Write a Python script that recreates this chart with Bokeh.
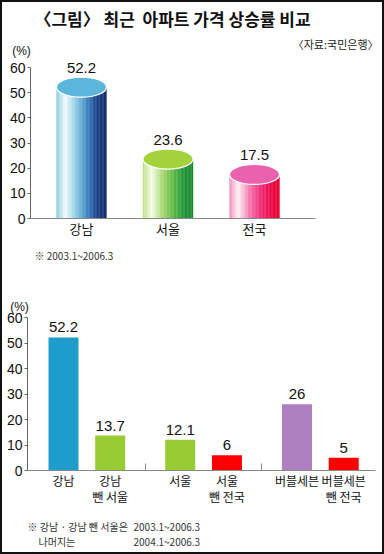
from bokeh.plotting import figure
from bokeh.models import Range1d, FixedTicker, Label, LabelSet, ColumnDataSource, LinearAxis
from bokeh.layouts import column
from bokeh.embed import file_html
from bokeh.resources import INLINE
from bokeh.core.properties import value

# ---------------- data ----------------
title_text = "〈그림〉 최근\u00a0 아파트 가격 상승률 비교"
source_text = "〈자료:국민은행〉"
unit_text = "(%)"

top_categories = ["강남", "서울", "전국"]
top_values = [52.2, 23.6, 17.5]
top_note = "※ 2003.1~2006.3"

bottom_categories = ["강남", "강남\n뺀 서울", "서울", "서울\n뺀 전국", "버블세븐", "버블세븐\n뺀 전국"]
bottom_groups = [0, 0, 1, 1, 2, 2]
bottom_values = [52.2, 13.7, 12.1, 6, 26, 5]
bottom_note_1a = "※ 강남 · 강남 뺀 서울은"
bottom_note_1b = "2003.1~2006.3"
bottom_note_2a = "나머지는"
bottom_note_2b = "2004.1~2006.3"

y_ticks = [0, 10, 20, 30, 40, 50, 60]

# ---------------- style ----------------
KR = "Noto Sans CJK KR"
NUM = "Liberation Sans"
NARROW = "Liberation Sans Narrow, Arial Narrow, Liberation Sans"

top_stops = [
    [(0, "#86cde0"), (0.18, "#f4fbfd"), (0.40, "#8ccbe4"), (0.62, "#3a86c0"), (0.82, "#1c3f88"), (1, "#142a6a")],
    [(0, "#bde27e"), (0.18, "#f6fbea"), (0.40, "#a8d870"), (0.62, "#5cb844"), (0.82, "#22963a"), (1, "#1a8a30")],
    [(0, "#f08cb8"), (0.18, "#fff2f7"), (0.40, "#f57ab0"), (0.62, "#f0307a"), (0.82, "#ec0c4a"), (1, "#e8002a")],
]
top_cap_colors = ["#5cb6dc", "#a4d23c", "#ea62ae"]
bottom_colors = ["#1e9dcc", "#99cc33", "#99cc33", "#ff0000", "#ad7fbf", "#ff0000"]


def hex2rgb(h):
    return tuple(int(h[i:i + 2], 16) for i in (1, 3, 5))


def interp(stops, t):
    for (p0, c0), (p1, c1) in zip(stops, stops[1:]):
        if t <= p1:
            f = (t - p0) / (p1 - p0)
            a, b = hex2rgb(c0), hex2rgb(c1)
            return "#%02x%02x%02x" % tuple(round(a[k] + (b[k] - a[k]) * f) for k in range(3))
    return stops[-1][1]


def make_fig(h, xr, yr):
    p = figure(width=380, height=h, x_range=Range1d(*xr), y_range=Range1d(*yr),
               output_backend="svg", toolbar_location=None, title=None,
               x_axis_location=None, y_axis_location=None,
               min_border=0, min_border_left=0, min_border_right=0,
               min_border_top=0, min_border_bottom=0)
    p.xgrid.visible = False
    p.ygrid.visible = False
    p.outline_line_color = None
    p.background_fill_color = "white"
    p.border_fill_color = "white"
    return p


def add_yaxis(p, xloc):
    ax = LinearAxis(fixed_location=xloc, bounds=(0, 60),
                    ticker=FixedTicker(ticks=y_ticks, minor_ticks=[]))
    ax.major_tick_out = 3
    ax.major_tick_in = 0
    ax.minor_tick_out = 0
    ax.minor_tick_in = 0
    ax.major_label_standoff = 2
    ax.major_label_text_font = NARROW
    ax.major_label_text_font_size = "14px"
    ax.major_label_text_color = "#111111"
    ax.axis_line_color = "#666666"
    ax.major_tick_line_color = "#666666"
    p.add_layout(ax, "left")


def add_baseline(p, x0, x1, seps):
    ax = LinearAxis(fixed_location=0, bounds=(x0, x1),
                    ticker=FixedTicker(ticks=[], minor_ticks=seps))
    ax.major_tick_out = 0
    ax.major_tick_in = 0
    ax.minor_tick_out = 0
    ax.minor_tick_in = 7
    ax.minor_tick_line_color = "#888888"
    ax.axis_line_color = "#888888"
    p.add_layout(ax, "below")


def add_cat_labels(p, xs, cats, standoff, line_h, size):
    lx, lt, lo = [], [], []
    for x, c in zip(xs, cats):
        for k, line in enumerate(c.split("\n")):
            lx.append(x)
            lt.append(line)
            lo.append(standoff + k * line_h)
    src = ColumnDataSource(dict(x=lx, y=[0] * len(lx), t=lt, o=lo))
    p.text(x="x", y="y", text="t", y_offset="o", source=src, text_align="center",
           text_baseline="top", text_font=value(KR), text_font_size=size, text_color="#111111")


def add_text(p, x, y, text, size, font=KR, align="left", bold=False, color="#222222"):
    p.add_layout(Label(x=x, y=y, text=text, text_font=font, text_font_size=size,
                       text_font_style="bold" if bold else "normal",
                       text_align=align, text_baseline="middle", text_color=color))


# ---------------- top chart ----------------
# canvas = image pixel - 2 (border); bar centres at 79 + 86.5*i, zero at 216, 2.5167 px/unit
T_SX, T_X0 = 86.5, 79
T_SY, T_Y0 = 151 / 60, 216
T_H = 260
tx = lambda img_x: (img_x - 2 - T_X0) / T_SX
ty = lambda img_y: (T_Y0 - (img_y - 2)) / T_SY

p1 = make_fig(T_H, (tx(2), tx(382)), (ty(2 + T_H), ty(2)))
add_yaxis(p1, tx(30))
add_baseline(p1, tx(30), tx(315), [])

top_x = list(range(len(top_categories)))
bar_w = 50 / T_SX
N = 36
sx, st, sc = [], [], []
for i, v in enumerate(top_values):
    for k in range(N):
        t = (k + 0.5) / N
        sx.append(top_x[i] - bar_w / 2 + t * bar_w)
        st.append(v)
        sc.append(interp(top_stops[i], t))
p1.vbar(x=sx, top=st, bottom=0, width=bar_w / N * 1.05, fill_color=sc, line_color=sc, line_width=0.3)
p1.ellipse(x=top_x, y=top_values, width=bar_w, height=20, height_units="screen",
           fill_color=top_cap_colors, line_color="white", line_width=1.2)

src1 = ColumnDataSource(dict(x=top_x, y=top_values, t=["%g" % v for v in top_values]))
p1.add_layout(LabelSet(x="x", y="y", text="t", source=src1, y_offset=14, text_align="center",
                       text_baseline="alphabetic", text_font=value(NUM), text_font_size="15px",
                       text_color="#111111"))
add_cat_labels(p1, top_x, top_categories, 0, 16, "13px")

add_text(p1, tx(172), ty(18), title_text, "17px", bold=True, align="center", color="#111111")
add_text(p1, tx(378), ty(43), source_text, "11px", align="right")
add_text(p1, tx(21), ty(50), unit_text, "12px", font=NUM, align="center", color="#111111")
add_text(p1, tx(34), ty(255), top_note, "10px", color="#333333")

# ---------------- bottom chart ----------------
# canvas = image pixel - 262; bar slots at 61 + 46.7*x, zero at 208, 2.55 px/unit
B_SX, B_X0 = 46.7, 61
B_SY, B_Y0 = 153 / 60, 208
B_H = 290
bx = lambda img_x: (img_x - 2 - B_X0) / B_SX
by = lambda img_y: (B_Y0 - (img_y - 262)) / B_SY

p2 = make_fig(B_H, (bx(2), bx(382)), (by(262 + B_H), by(262)))
add_yaxis(p2, bx(27))

GROUP_STEP = 2.5
bottom_x = []
for i, g in enumerate(bottom_groups):
    first = bottom_groups.index(g)
    bottom_x.append(g * GROUP_STEP + (i - first))
separators = []
groups_sorted = sorted(set(bottom_groups))
for g, g_next in zip(groups_sorted, groups_sorted[1:]):
    last = max(x for x, gg in zip(bottom_x, bottom_groups) if gg == g)
    first_next = min(x for x, gg in zip(bottom_x, bottom_groups) if gg == g_next)
    separators.append((last + first_next) / 2)
add_baseline(p2, bx(27), bx(375), separators)

p2.vbar(x=bottom_x, top=bottom_values, bottom=0, width=30 / B_SX, fill_color=bottom_colors,
        line_color=None)
src2 = ColumnDataSource(dict(x=bottom_x, y=bottom_values, t=["%g" % v for v in bottom_values]))
p2.add_layout(LabelSet(x="x", y="y", text="t", source=src2, y_offset=5, text_align="center",
                       text_baseline="alphabetic", text_font=value(NUM), text_font_size="15px",
                       text_color="#111111"))
add_cat_labels(p2, bottom_x, bottom_categories, 1, 16, "12px")

add_text(p2, bx(19), by(306), unit_text, "12px", font=NUM, align="center", color="#111111")
add_text(p2, bx(27), by(526), bottom_note_1a, "10px", color="#333333")
add_text(p2, bx(133), by(526), bottom_note_1b, "10px", color="#333333")
add_text(p2, bx(38), by(541), bottom_note_2a, "10px", color="#333333")
add_text(p2, bx(133), by(541), bottom_note_2b, "10px", color="#333333")

layout = column(p1, p2, spacing=0, styles={"border": "2px solid #111111", "background": "white"})

open("out.html", "w").write(file_html(layout, INLINE))
